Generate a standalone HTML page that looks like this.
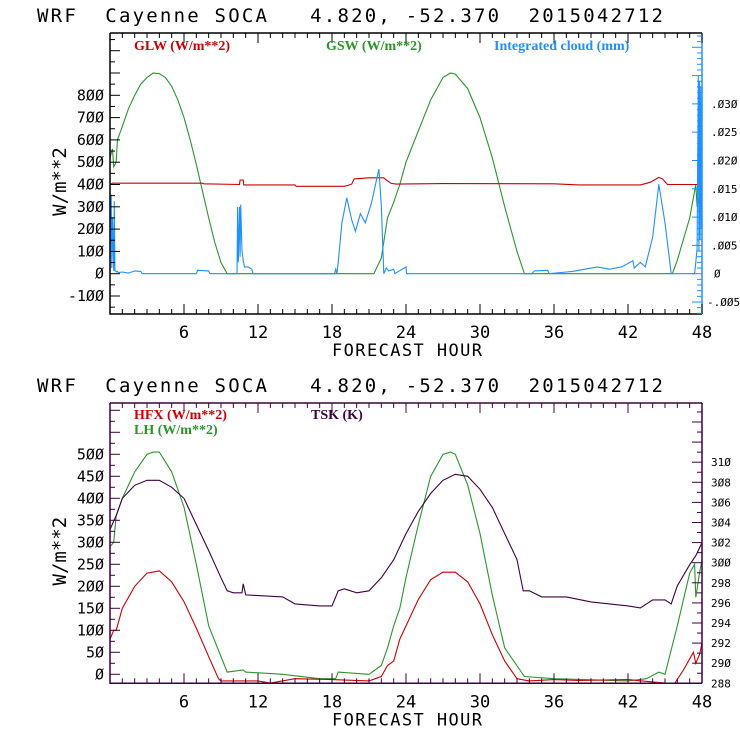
<!DOCTYPE html>
<html><head><meta charset="utf-8"><style>
html,body{margin:0;padding:0;background:#fff;}
svg{display:block;font-family:"DejaVu Sans Mono","Liberation Mono",monospace;}
.lg{font-family:"Liberation Serif",serif;font-weight:bold;font-size:14px;}
</style></head><body>
<svg id="svg" width="740" height="740" viewBox="0 0 740 740">
<rect width="740" height="740" fill="#fff"/>
</svg>
<script>
// ---- Top panel data (hour, value) ----
const gswHours=[0,0.2,0.3,0.5,0.6,1,1.5,2,2.5,3,3.5,4,4.5,5,5.5,6,6.5,7,7.5,8,8.5,9,9.5,21.4,22,22.5,23,23.5,24,25,26,27,27.6,28,29,30,31,32,33,33.6,45.6,46,47,47.5,47.6,48];
const gswVals=[520,560,480,500,600,660,740,800,850,880,900,897,880,840,780,700,600,490,370,250,140,50,0,0,70,250,320,400,500,640,780,880,900,895,830,700,520,300,100,0,0,60,250,400,300,420];
const glwHours=[0,0.2,7.5,7.6,10.5,10.55,10.8,10.85,15,15.1,19,19.3,19.6,19.8,20.5,21,22.2,22.4,22.8,23.2,27,36,38,43,43.8,44.5,44.8,45.2,48];
const glwVals=[400,406,406,403,400,420,420,398,398,392,392,396,402,425,428,430,430,420,405,402,404,403,398,398,410,432,425,400,400];
const cldHours=[0,0.1,0.15,0.2,0.3,0.35,0.4,0.5,0.55,0.6,0.7,1,1.5,2,2.5,2.6,7,7.1,8,8.1,10.3,10.35,10.4,10.5,10.55,10.6,10.7,10.8,10.9,11.2,11.5,11.6,18.2,18.3,18.4,18.5,18.8,19.2,19.6,19.9,20.3,20.7,21.2,21.8,22.0,22.2,22.4,22.6,23,23.1,24,24.05,24.1,34.2,34.4,35.5,35.6,37,37.5,38.5,39.5,40.5,41.5,42.4,42.5,43,43.4,44,44.5,45,45.5,47.4,47.5,47.6,47.7,47.75,47.8,47.85,47.9,47.95,48];
const cldVals=[0.0005,0.014,0.001,0.010,0.0005,0.0128,0.0005,0.0004,0.0003,0.0004,0.0002,0.0003,0.0001,0.0005,0.0004,0,0,0.0006,0.0005,0,0,0.0118,0.002,0.0118,0.003,0.0122,0.004,0.0024,0.0012,0.0012,0.0008,0,0,0.0008,0,0.002,0.009,0.0134,0.0095,0.0075,0.0106,0.009,0.0125,0.0185,0.012,0,0.001,0.0005,0.0008,0,0.0012,0,0,0,0.0005,0.0006,0,0.0003,0.0004,0.0008,0.0012,0.0008,0.0012,0.0023,0.001,0.002,0.0012,0.0065,0.0158,0.009,0,0,0.002,0.0045,0.035,0.004,0.034,0.006,0.033,0.008,0.03];
// ---- Bottom panel data ----
const hfxHours=[0,0.3,0.5,1,2,3,4,5,6,7,8,8.8,9,12,13,15,18,21,22,22.5,23,23.5,24,25,26,27,28,29,30,31,32,33,34,36,38,42,45,45.8,46.5,47.3,47.5,47.8,48];
const hfxVals=[80,100,100,150,200,230,235,210,165,105,40,-10,-15,-15,-20,-10,-12,-15,-5,20,30,80,110,170,215,232,232,210,160,90,30,-10,-15,-12,-14,-12,-20,-20,10,50,25,45,70];
const lhHours=[0,0.3,0.5,1,2,3,3.5,4,5,6,7,8,9.5,10.8,11,14,17,18.3,18.5,21,22,22.5,23,23.5,24,25,26,27,27.6,28,29,30,31,32,33.6,36,42,43.5,44.5,45,46,47,47.4,47.5,47.8,48];
const lhVals=[290,300,360,400,460,500,505,505,460,380,250,110,5,10,5,0,-10,-10,5,0,20,60,110,150,220,340,450,500,505,500,430,320,180,60,-5,-10,-15,-10,5,0,110,230,250,175,230,260];
const tskHours=[0,0.5,1,2,3,4,5,6,7,8,9,9.5,10,10.7,10.8,11,14,15,17,18,18.5,19,20,21,22,23,24,25,26,27,28,29,30,31,32,33,33.5,34,35,37,39,42,43,43.5,44,45,45.5,46,47,47.5,48];
const tskVals=[303.3,304.7,306.4,307.7,308.2,308.2,307.5,306.4,303.8,301.2,298.5,297.2,297.0,297.0,297.9,296.8,296.6,295.9,295.7,295.7,297.2,297.4,297.0,297.2,298.5,300.3,302.9,305.1,306.9,308.2,308.8,308.6,307.3,305.5,302.9,300.3,297.2,297.2,296.6,296.6,296.1,295.7,295.5,295.9,296.3,296.3,295.9,297.7,299.8,300.7,302.0];
const xTickLabels=[6,12,18,24,30,36,42,48];
const topLeftTicks=[-100,0,100,200,300,400,500,600,700,800];
const topRightTicks=[-0.005,0,0.005,0.010,0.015,0.020,0.025,0.030];
const botLeftTicks=[0,50,100,150,200,250,300,350,400,450,500];
const botRightTicks=[288,290,292,294,296,298,300,302,304,306,308,310];

const svg=document.getElementById('svg');
const NS='http://www.w3.org/2000/svg';
function mk(tag,attrs,parent){const e=document.createElementNS(NS,tag);for(const k in attrs)e.setAttribute(k,attrs[k]);(parent||svg).appendChild(e);return e;}
const X0=110,X1=702;
const xs=h=>X0+(X1-X0)*h/48;
function stepPath(hs,vs,ys){let d='';for(let i=0;i<hs.length;i++){d+=(i?'L':'M')+xs(hs[i]).toFixed(1)+','+ys(vs[i]).toFixed(1);}return d;}
function txt(x,y,s,attrs,name){const t=mk('text',Object.assign({x:x,y:y},attrs||{}));t.textContent=s;return t;}
function zs(s){return s.replace(/0/g,'\u00D8');}

function panel(p){
  const g=mk('g',{});
  
  
  const tt=txt(37,p.top-11,'WRF  Cayenne SOCA   4.820, -52.370  2015042712',{'font-size':'19px',fill:'#000',textLength:626,lengthAdjust:'spacing'},'chart-title');
  tt.setAttribute('style','white-space:pre');
  p.series.forEach(s=>{const e=mk('path',{d:stepPath(s.h,s.v,s.ys),fill:'none',stroke:s.c,'stroke-width':1.1},g);});
  mk('path',{d:`M${X0},${p.top}H${X1}M${X0},${p.top}V${p.bot}H${X1}`,fill:'none',stroke:p.frame,'stroke-width':1.5},g);
  mk('line',{x1:X1,y1:p.top,x2:X1,y2:p.bot,stroke:p.rframe,'stroke-width':1.5},g);
  for(let h=0;h<=48;h++){const L=h%6===0?10:5;
    mk('line',{x1:xs(h),y1:p.bot,x2:xs(h),y2:p.bot-L,stroke:p.frame},g);
    mk('line',{x1:xs(h),y1:p.top,x2:xs(h),y2:p.top+L,stroke:p.frame},g);}
  xTickLabels.forEach(v=>txt(xs(v),p.bot+24,String(v),{'font-size':'17px','text-anchor':'middle'},'x-tick-label'));
  txt(332,p.bot+42,'FORECAST HOUR',{'font-size':'17px',textLength:150,lengthAdjust:'spacing'},'x-axis-title');
  txt(0,0,'W/m**2',{'font-size':'19px','text-anchor':'middle',transform:`translate(66,${(p.top+p.bot)/2+8}) rotate(-90)`},'y-axis-title');
  for(let v=p.lmin;v<=p.lmax;v+=p.lstep){const y=p.ly(v);if(y<p.top||y>p.bot)continue;const L=(Math.round(v/p.lstep)%2===0)?10:5;mk('line',{x1:X0,y1:y,x2:X0+L,y2:y,stroke:p.frame},g);}
  p.lt.forEach(v=>txt(104,p.ly(v)+5,zs(String(v)),{'font-size':'15px','text-anchor':'end'},'y-tick-label'));
  for(let v=p.rmin;v<=p.rmax+1e-9;v+=p.rstep){const y=p.ry(v);if(y<p.top||y>p.bot)continue;const k=Math.round(v/p.rstep);const L=(k%p.rmaj===0)?10:5;mk('line',{x1:X1,y1:y,x2:X1-L,y2:y,stroke:p.rframe},g);}
  p.rt.forEach(v=>{const s=zs(p.rfmt(v));txt(s.startsWith('-')?707:(s.length===1?714:711),p.ry(v)+4,s,{'font-size':'11px'},'right-tick-label');});
  p.legend.forEach(l=>{txt(l.x,l.y,l.t,{fill:l.c,'class':'lg'},'legend-entry');});
}
const TT=33,TB=314;
const tl=v=>273.7-v*0.223, tr=v=>273.7-v/0.005*28.3;
panel({name:'top-panel',top:TT,bot:TB,frame:'#000',rframe:'#1e90ff',
  series:[{name:'gsw-line',h:gswHours,v:gswVals,ys:tl,c:'#2a962a'},{name:'glw-line',h:glwHours,v:glwVals,ys:tl,c:'#cc0000'},{name:'cloud-line',h:cldHours,v:cldVals,ys:tr,c:'#1e90ff'}],
  ly:tl,lmin:-150,lmax:1100,lstep:50,lt:topLeftTicks,
  ry:tr,rmin:-0.007,rmax:0.042,rstep:0.001,rmaj:5,rt:topRightTicks,rfmt:v=>v===0?'0':(v<0?'-':'')+'.'+String(Math.round(Math.abs(v)*1000)).padStart(3,'0'),
  legend:[{x:134,y:50,t:'GLW (W/m**2)',c:'#cc0000'},{x:326,y:50,t:'GSW (W/m**2)',c:'#2a962a'},{x:494,y:50,t:'Integrated cloud (mm)',c:'#1e90ff'}]});
const BT=403,BB=683.3;
const bl=v=>674.3-v*0.44, br=v=>683.3-(v-288)*10.05;
panel({name:'bottom-panel',top:BT,bot:BB,frame:'#400040',rframe:'#400040',
  series:[{name:'lh-line',h:lhHours,v:lhVals,ys:bl,c:'#2a962a'},{name:'hfx-line',h:hfxHours,v:hfxVals,ys:bl,c:'#cc0000'},{name:'tsk-line',h:tskHours,v:tskVals,ys:br,c:'#400040'}],
  ly:bl,lmin:-25,lmax:650,lstep:25,lt:botLeftTicks,
  ry:br,rmin:288,rmax:316,rstep:1,rmaj:2,rt:botRightTicks,rfmt:v=>String(v),
  legend:[{x:134,y:419,t:'HFX (W/m**2)',c:'#cc0000'},{x:134,y:434,t:'LH  (W/m**2)',c:'#2a962a'},{x:311,y:419,t:'TSK (K)',c:'#400040'}]});
</script>
</body></html>
